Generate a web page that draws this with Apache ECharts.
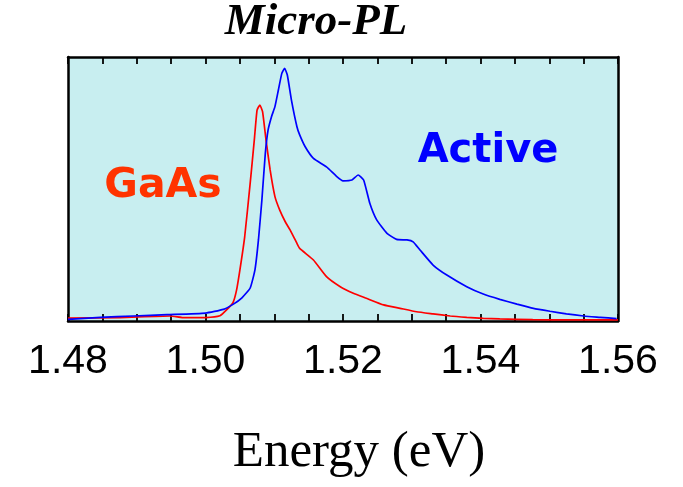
<!DOCTYPE html>
<html>
<head>
<meta charset="utf-8">
<style>html,body{margin:0;padding:0;background:#fff;}#c{width:683px;height:487px;}</style>
<script src="https://cdn.jsdelivr.net/npm/echarts@6/dist/echarts.min.js"></script>
</head>
<body>
<div id="c"></div>
<script>
// Energy (eV) and intensity (a.u.)
const gaasEnergy = [1.4800,1.4876,1.4948,1.4970,1.5000,1.5021,1.5031,1.5040,1.5045,1.5050,1.5057,1.5065,1.5071,1.5075,1.5079,1.5083,1.5088,1.5094,1.5101,1.5108,1.5116,1.5123,1.5133,1.5137,1.5157,1.5176,1.5196,1.5215,1.5234,1.5259,1.5283,1.5307,1.5331,1.5356,1.5380,1.5404,1.5428,1.5476,1.5525,1.5600];
const gaasIntensity = [1.1,1.3,1.9,1.25,1.3,2.0,4.3,7.0,11.5,19.3,31.9,52.2,68.6,79.9,81.8,79.3,68.6,57.2,47.1,42.0,37.6,34.5,29.4,27.5,23.1,16.8,13.0,10.5,8.6,6.1,4.8,3.5,2.7,1.9,1.4,1.0,0.8,0.5,0.4,0.4];
const activeEnergy = [1.4800,1.4847,1.4895,1.4944,1.5000,1.5026,1.5040,1.5053,1.5065,1.5072,1.5077,1.5082,1.5087,1.5091,1.5096,1.5101,1.5106,1.5111,1.5115,1.5119,1.5125,1.5133,1.5137,1.5145,1.5157,1.5176,1.5191,1.5200,1.5213,1.5222,1.5230,1.5239,1.5249,1.5264,1.5278,1.5293,1.5302,1.5312,1.5331,1.5351,1.5380,1.5404,1.5428,1.5453,1.5477,1.5501,1.5525,1.5550,1.5574,1.5598];
const activeIntensity = [0.6,1.4,1.9,2.4,3.0,4.4,6.3,8.8,12.5,19.5,30.7,45.8,63.5,72.3,77.4,81.2,87.5,93.8,95.7,93.2,83.7,73.6,70.5,66.0,61.6,58.4,54.7,53.1,53.4,55.3,53.4,44.6,38.3,33.2,30.9,30.7,30.0,26.9,21.2,17.4,13.0,10.2,8.2,6.4,4.8,3.7,2.7,1.9,1.4,0.9];
const tickValues = [1.48,1.50,1.52,1.54,1.56];
const tickLabels = ['1.48','1.50','1.52','1.54','1.56'];

const zip = (xs, ys) => xs.map((x, i) => [x, ys[i]]);
const chart = echarts.init(document.getElementById('c'));
const axisBase = {
  type: 'value', min: 1.48, max: 1.56, interval: 0.005,
  axisLine: {show: true, onZero: false, lineStyle: {color: '#000', width: 2.5}},
  axisTick: {show: true, inside: true, length: 7, lineStyle: {color: '#000', width: 1.8}},
  splitLine: {show: false}
};
const yBase = {type: 'value', min: 0, max: 100, axisLine: {show: true, onZero: false, lineStyle: {color: '#000', width: 2.5}}, axisTick: {show: false}, axisLabel: {show: false}, splitLine: {show: false}};
chart.setOption({
  animation: false,
  grid: {left: 68, right: 65, top: 57, bottom: 166, show: true, backgroundColor: '#c8eef0', borderWidth: 0},
  xAxis: [
    Object.assign({}, axisBase, {
      position: 'bottom',
      axisLabel: {
        show: true, margin: 20, color: '#000', fontFamily: 'Liberation Sans, Arial, sans-serif', fontSize: 41,
        formatter: v => {
          const i = tickValues.findIndex(t => Math.abs(t - v) < 1e-6);
          return i >= 0 ? tickLabels[i] : '';
        }
      }
    }),
    Object.assign({}, axisBase, {position: 'top', axisLabel: {show: false}})
  ],
  yAxis: [
    Object.assign({}, yBase, {position: 'left'}),
    Object.assign({}, yBase, {position: 'right'})
  ],
  series: [
    {name: 'GaAs', type: 'line', data: zip(gaasEnergy, gaasIntensity), showSymbol: false, smooth: 0.15, lineStyle: {color: '#ff0000', width: 1.7}, z: 3},
    {name: 'Active', type: 'line', data: zip(activeEnergy, activeIntensity), showSymbol: false, smooth: 0.15, lineStyle: {color: '#0000ff', width: 1.7}, z: 4}
  ],
  graphic: [
    {type: 'text', x: 316, y: 22, style: {text: 'Micro-PL', font: 'italic bold 45px "Liberation Serif", "Times New Roman", serif', fill: '#000', align: 'center', verticalAlign: 'middle'}},
    {type: 'text', x: 359, y: 453, style: {text: 'Energy (eV)', font: '51px "Liberation Serif", "Times New Roman", serif', fill: '#000', align: 'center', verticalAlign: 'middle'}},
    {type: 'text', x: 163, y: 186, z: 10, style: {text: 'GaAs', font: 'bold 41px "Comic Sans MS", "DejaVu Sans", sans-serif', fill: '#ff3300', align: 'center', verticalAlign: 'middle'}},
    {type: 'text', x: 488, y: 152, z: 10, style: {text: 'Active', font: 'bold 40px "Comic Sans MS", "DejaVu Sans", sans-serif', fill: '#0000ff', align: 'center', verticalAlign: 'middle'}}
  ]
});
</script>
</body>
</html>
